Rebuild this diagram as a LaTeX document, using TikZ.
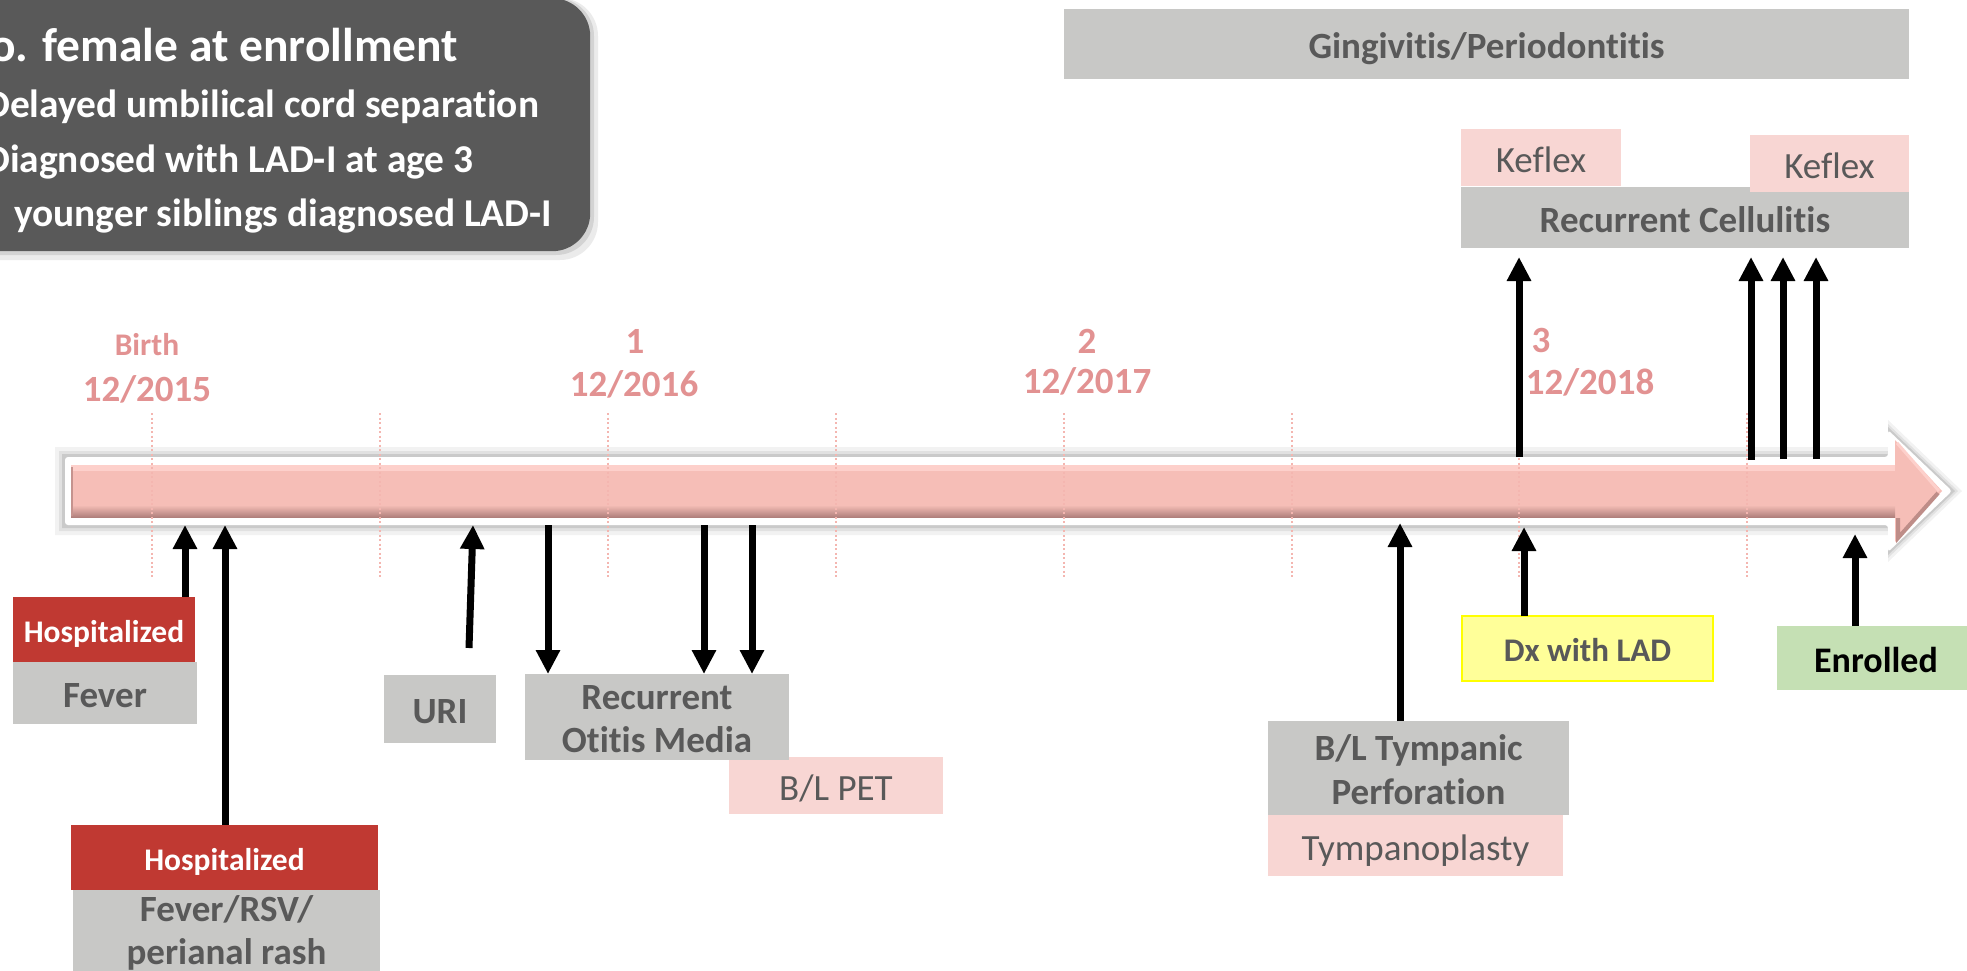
\documentclass[tikz,border=0pt]{standalone}
\usepackage{fontspec}
\setmainfont{Carlito}[Ligatures=NoCommon]
\usetikzlibrary{arrows.meta}
\definecolor{darkbox}{RGB}{89,89,89}
\definecolor{boxgray}{RGB}{200,200,198}
\definecolor{txtgray}{RGB}{89,89,89}
\definecolor{boxpink}{RGB}{248,214,211}
\definecolor{hospred}{RGB}{192,57,50}
\definecolor{yfill}{RGB}{255,255,153}
\definecolor{yline}{RGB}{255,255,0}
\definecolor{gfill}{RGB}{197,224,180}
\definecolor{datecol}{RGB}{226,146,146}
\definecolor{dotcol}{RGB}{244,182,176}
\definecolor{pinkfill}{RGB}{246,190,183}
\definecolor{pinklight}{RGB}{253,208,203}
\definecolor{pinkdark}{RGB}{176,128,124}
\newcommand\myfs[2]{\fontsize{#1}{#2}\selectfont}
\begin{document}
\begin{tikzpicture}[x=1pt,y=-1pt,
  arr/.style={line width=7pt,-{Triangle[length=24pt,width=23pt]}},
  boxbase/.style={rectangle,inner sep=0pt,outer sep=0pt,text depth=0pt,align=center},
  gbox/.style={boxbase,fill=boxgray,text=txtgray,text height=29pt,font=\myfs{37}{44}\bfseries},
  pbox/.style={boxbase,fill=boxpink,text=txtgray,text height=29pt,font=\myfs{37}{44}},
  rbox/.style={boxbase,fill=hospred,text=white,text height=25pt,font=\myfs{31.5}{38}\bfseries},
  gtxt/.style={inner sep=0pt,anchor=base,text=txtgray,font=\myfs{37}{44}\bfseries},
  lbl/.style={inner sep=0pt,anchor=base,text=datecol,font=\myfs{37}{44}\bfseries},
  info/.style={inner sep=0pt,anchor=base west,text=white,font=\myfs{39.4}{47}\bfseries},
  dotln/.style={dotcol,line width=2pt,dash pattern=on 2pt off 2.5pt}
]
\useasboundingbox (0,0) rectangle (1967,970);
\clip (0,0) rectangle (1967,970);

% info box
\fill[black,opacity=0.08,rounded corners=38] (-40,-2) rectangle (598,260);
\fill[black,opacity=0.10,rounded corners=38] (-40,-2) rectangle (594,255);
\node[fill=darkbox,rounded corners=38,minimum width=630,minimum height=253,anchor=north west,inner sep=0pt] (infobox) at (-40,-2) {};
\node[info,font=\myfs{47.5}{56}\bfseries] (i0) at (-10,61) {o. female at enrollment};
\node[info] (i1) at (-15,117) {Delayed umbilical cord separation};
\node[info] (i2) at (-15,172) {Diagnosed with LAD-I at age 3};
\node[info] (i3) at (14,226) {younger siblings diagnosed LAD-I};

% top boxes
\node[gbox,minimum width=845,minimum height=70] (ging) at (1486.5,44) {Gingivitis/Periodontitis};
\node[gbox,minimum width=448,minimum height=61] (cell) at (1685,217.5) {Recurrent Cellulitis};
\node[pbox,minimum width=160,minimum height=57] (kef1) at (1541,157.5) {Keflex};
\node[pbox,minimum width=159,minimum height=57] (kef2) at (1829.5,163.5) {Keflex};

% timeline arrow
\foreach \e/\o in {10/0.05,6/0.07,3/0.10}{
  \fill[black,opacity=\o] ({65-\e},{457-\e}) -- (1888,{457-\e}) -- (1888,{430-\e}) -- ({1952+\e},491) -- (1888,{552+\e}) -- (1888,{525+\e}) -- ({65-\e},{525+\e}) -- cycle;
}
\fill[white,rounded corners=3] (65,457) -- (1888,457) -- (1888,430) -- (1952,491) -- (1888,552) -- (1888,525) -- (65,525) -- cycle;
\fill[pinkfill] (71,465) -- (1895,465) -- (1895,440) -- (1942,491) -- (1895,542) -- (1895,517) -- (71,517) -- cycle;
\fill[pinklight] (71,465) rectangle (1895,471);
\shade[top color=pinkfill,bottom color=pinkdark] (71,505) rectangle (1895,517);
\draw[pinkdark!70!pinkfill,line width=2pt] (72,467) -- (72,516);
\draw[pinklight,line width=3pt] (1897,443) -- (1939,491);
\draw[pinkdark!80!pinkfill,line width=4pt] (1938,493) -- (1898,538) -- (1898,518);

% dotted ticks
\foreach \i in {0,...,7}{
  \draw[dotln] ({152+227.9*\i},413) -- ({152+227.9*\i},578);
}

% date labels
\node[lbl,font=\myfs{31.5}{38}\bfseries] (birth) at (147,355) {Birth};
\node[lbl] (d15) at (147,401) {12/2015};
\node[lbl] (one) at (635,353) {1};
\node[lbl] (d16) at (634,396) {12/2016};
\node[lbl] (two) at (1087,353) {2};
\node[lbl] (d17) at (1087,393) {12/2017};
\node[lbl] (three) at (1541,352) {3};
\node[lbl] (d18) at (1590,394) {12/2018};

% bottom boxes
\node[rbox,minimum width=182,minimum height=65] (hosp1) at (104,629.5) {Hospitalized};
\node[gbox,minimum width=184,minimum height=62] (fever) at (105,693) {Fever};
\node[rbox,minimum width=307,minimum height=65] (hosp2) at (224.5,857.5) {Hospitalized};
\node[gbox,minimum width=307,minimum height=90,anchor=north] (rsv) at (226.5,890) {};
\node[gtxt] (rsv1) at (226.5,921) {Fever/RSV/};
\node[gtxt] (rsv2) at (226.5,964) {perianal rash};
\node[gbox,minimum width=112,minimum height=68] (uri) at (440,709) {URI};
\node[pbox,minimum width=214,minimum height=57] (pet) at (836,785.5) {B/L PET};
\node[gbox,minimum width=264,minimum height=86] (rom) at (657,717) {};
\node[gtxt] (rom1) at (657,709) {Recurrent};
\node[gtxt] (rom2) at (657,752) {Otitis Media};
\node[gbox,minimum width=301,minimum height=94] (tymp) at (1418.5,768) {};
\node[gtxt] (tymp1) at (1418.5,760) {B/L Tympanic};
\node[gtxt] (tymp2) at (1418.5,804) {Perforation};
\node[pbox,minimum width=295,minimum height=61] (tplasty) at (1415.5,845.5) {Tympanoplasty};
\node[boxbase,fill=yfill,draw=yline,line width=2pt,text=txtgray,text height=26pt,font=\myfs{33}{40}\bfseries,minimum width=251,minimum height=65] (dx) at (1587.5,648.5) {Dx with LAD};
\node[boxbase,fill=gfill,text=black,text height=28pt,font=\myfs{36}{43}\bfseries,minimum width=198,minimum height=64] (enr) at (1876,658) {Enrolled};

% arrow coordinates
\coordinate (t1) at (185,525);
\coordinate (t2) at (225,525);
\coordinate (u0) at (469,648);
\coordinate (t3) at (473,525);
\coordinate (s4) at (548,525);
\coordinate (s5) at (704,525);
\coordinate (s6) at (752,525);
\coordinate (t7) at (1400,523);
\coordinate (t8) at (1524,527);
\coordinate (t9) at (1855,534);
\coordinate (s10) at (1519,457);
\coordinate (c10) at (1519,257);
\coordinate (s11) at (1751,460);
\coordinate (c11) at (1751,257);
\coordinate (s12) at (1783,459);
\coordinate (c12) at (1783,257);
\coordinate (s13) at (1816,459);
\coordinate (c13) at (1816,257);

% arrows
\draw[arr] (hosp1.north -| t1) -- (t1);
\draw[arr] (hosp2.north -| t2) -- (t2);
\draw[arr] (u0) -- (t3);
\draw[arr] (s4) -- (rom.north -| s4);
\draw[arr] (s5) -- (rom.north -| s5);
\draw[arr] (s6) -- (rom.north -| s6);
\draw[arr] (tymp.north -| t7) -- (t7);
\draw[arr] (dx.north -| t8) -- (t8);
\draw[arr] (enr.north -| t9) -- (t9);
\draw[arr] (s10) -- (c10);
\draw[arr] (s11) -- (c11);
\draw[arr] (s12) -- (c12);
\draw[arr] (s13) -- (c13);
\end{tikzpicture}
\end{document}
